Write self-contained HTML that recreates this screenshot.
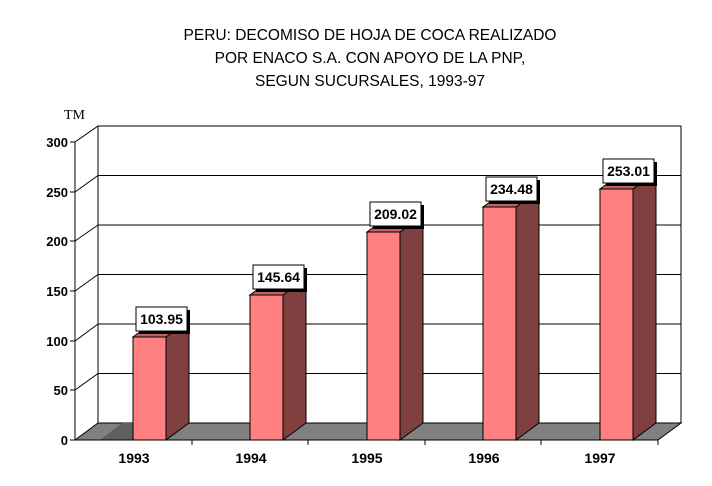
<!DOCTYPE html>
<html><head><style>body{margin:0;background:#fff}</style></head><body>
<svg width="712" height="481" xmlns="http://www.w3.org/2000/svg" font-family="Liberation Sans, Arial, sans-serif">
<rect width="712" height="481" fill="#fff"/>
<g font-size="15.5" text-anchor="middle" fill="#000">
<text x="370" y="40">PERU: DECOMISO DE HOJA DE COCA REALIZADO</text>
<text x="370" y="63">POR ENACO S.A. CON APOYO DE LA PNP,</text>
<text x="370" y="86">SEGUN SUCURSALES, 1993-97</text>
</g>
<text x="64" y="119" font-family="Liberation Serif, serif" font-size="14">TM</text>
<rect x="98" y="126" width="583" height="297" fill="#fff" stroke="#000" stroke-width="1"/>
<g stroke="#000" stroke-width="1">
<line x1="98" y1="175.5" x2="681" y2="175.5"/>
<line x1="98" y1="225" x2="681" y2="225"/>
<line x1="98" y1="274.5" x2="681" y2="274.5"/>
<line x1="98" y1="324" x2="681" y2="324"/>
<line x1="98" y1="373.5" x2="681" y2="373.5"/>
<line x1="75" y1="142" x2="98" y2="126"/>
<line x1="75" y1="192" x2="98" y2="175.5"/>
<line x1="75" y1="241" x2="98" y2="225"/>
<line x1="75" y1="291" x2="98" y2="274.5"/>
<line x1="75" y1="341" x2="98" y2="324"/>
<line x1="75" y1="390" x2="98" y2="373.5"/>
</g>
<polygon points="75,440 658,440 681,423 98,423" fill="#808080" stroke="#000"/>
<polygon points="100,440 122,423 133,423 133,440" fill="#606060"/>
<g stroke="#000">
<line x1="75" y1="142" x2="75" y2="440"/>
<line x1="75" y1="440" x2="658" y2="440"/>
<line x1="70" y1="142" x2="75" y2="142"/><line x1="70" y1="192" x2="75" y2="192"/>
<line x1="70" y1="241" x2="75" y2="241"/><line x1="70" y1="291" x2="75" y2="291"/>
<line x1="70" y1="341" x2="75" y2="341"/><line x1="70" y1="390" x2="75" y2="390"/>
<line x1="70" y1="440" x2="75" y2="440"/>
<line x1="192" y1="440" x2="192" y2="445"/><line x1="308" y1="440" x2="308" y2="445"/>
<line x1="425" y1="440" x2="425" y2="445"/><line x1="541" y1="440" x2="541" y2="445"/>
<line x1="658" y1="440" x2="658" y2="445"/>
</g>
<g font-size="13" font-weight="bold" text-anchor="end">
<text x="68" y="147">300</text><text x="68" y="197">250</text><text x="68" y="246">200</text>
<text x="68" y="296">150</text><text x="68" y="346">100</text><text x="68" y="395">50</text><text x="68" y="445">0</text>
</g>
<g font-size="14" font-weight="bold" text-anchor="middle">
<text x="134" y="463">1993</text><text x="251" y="463">1994</text><text x="367" y="463">1995</text>
<text x="484" y="463">1996</text><text x="600" y="463">1997</text>
</g>
<g stroke="#000" stroke-width="1">
<polygon points="166,440 189,423 189,320 166,337" fill="#804040"/>
<polygon points="133,337 156,320 189,320 166,337" fill="#c06060"/>
<rect x="133" y="337" width="33" height="103" fill="#ff8080"/>
<polygon points="283,440 306,423 306,278 283,295" fill="#804040"/>
<polygon points="250,295 273,278 306,278 283,295" fill="#c06060"/>
<rect x="250" y="295" width="33" height="145" fill="#ff8080"/>
<polygon points="400,440 423,423 423,215 400,232" fill="#804040"/>
<polygon points="367,232 390,215 423,215 400,232" fill="#c06060"/>
<rect x="367" y="232" width="33" height="208" fill="#ff8080"/>
<polygon points="516,440 539,423 539,190 516,207" fill="#804040"/>
<polygon points="483,207 506,190 539,190 516,207" fill="#c06060"/>
<rect x="483" y="207" width="33" height="233" fill="#ff8080"/>
<polygon points="633,440 656,423 656,172 633,189" fill="#804040"/>
<polygon points="600,189 623,172 656,172 633,189" fill="#c06060"/>
<rect x="600" y="189" width="33" height="251" fill="#ff8080"/>
</g>
<g font-size="14" font-weight="bold" text-anchor="middle">
<rect x="139" y="310" width="51" height="24" fill="#000"/><rect x="136" y="307" width="51" height="24" fill="#fff" stroke="#000"/><text x="161.5" y="324">103.95</text>
<rect x="256" y="268" width="51" height="24" fill="#000"/><rect x="253" y="265" width="51" height="24" fill="#fff" stroke="#000"/><text x="278.5" y="282">145.64</text>
<rect x="373" y="205" width="51" height="24" fill="#000"/><rect x="370" y="202" width="51" height="24" fill="#fff" stroke="#000"/><text x="395.5" y="219">209.02</text>
<rect x="489" y="180" width="51" height="24" fill="#000"/><rect x="486" y="177" width="51" height="24" fill="#fff" stroke="#000"/><text x="511.5" y="194">234.48</text>
<rect x="606" y="162" width="51" height="24" fill="#000"/><rect x="603" y="159" width="51" height="24" fill="#fff" stroke="#000"/><text x="628.5" y="176">253.01</text>
</g>
</svg>
</body></html>
